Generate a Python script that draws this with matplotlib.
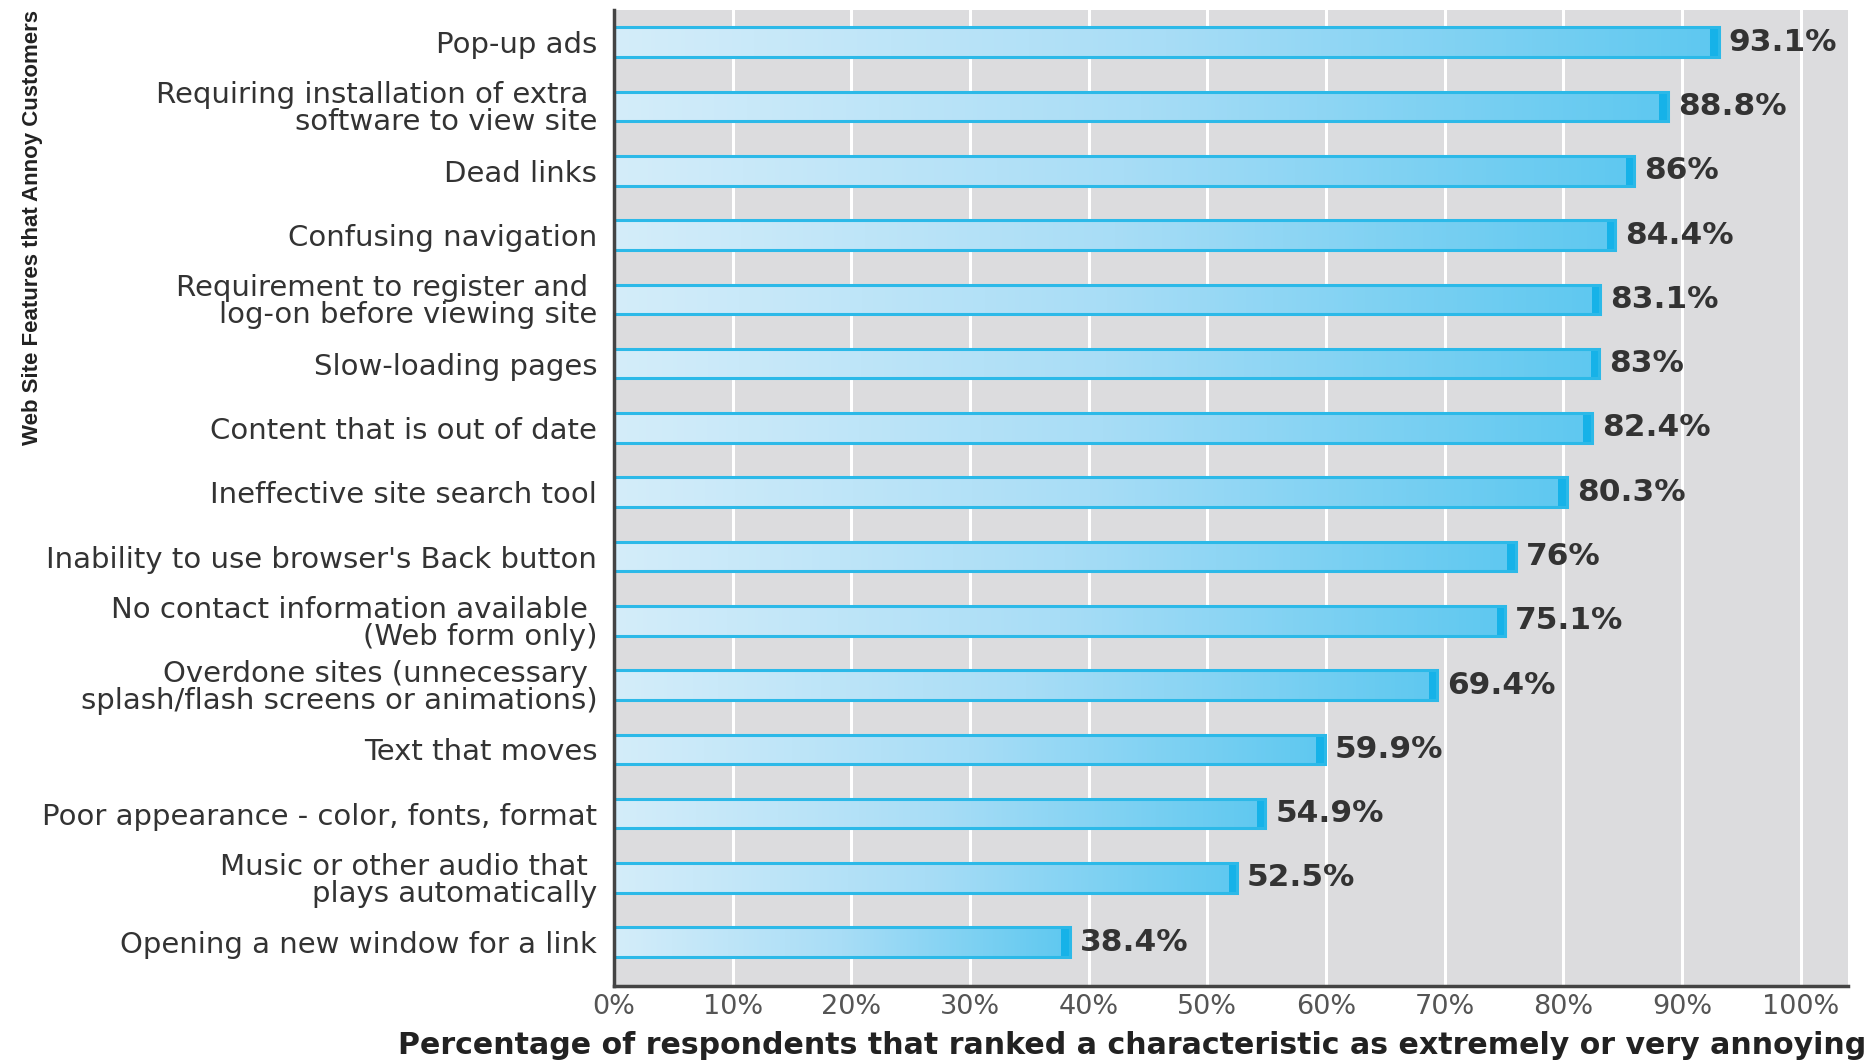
import numpy as np
import matplotlib
matplotlib.use("Agg")
import matplotlib.pyplot as plt
from matplotlib.colors import LinearSegmentedColormap

categories = [
    "Pop-up ads",
    "Requiring installation of extra \nsoftware to view site",
    "Dead links",
    "Confusing navigation",
    "Requirement to register and \nlog-on before viewing site",
    "Slow-loading pages",
    "Content that is out of date",
    "Ineffective site search tool",
    "Inability to use browser's Back button",
    "No contact information available \n(Web form only)",
    "Overdone sites (unnecessary \nsplash/flash screens or animations)",
    "Text that moves",
    "Poor appearance - color, fonts, format",
    "Music or other audio that \nplays automatically",
    "Opening a new window for a link",
]
values = [93.1, 88.8, 86, 84.4, 83.1, 83, 82.4, 80.3, 76, 75.1, 69.4, 59.9, 54.9, 52.5, 38.4]
value_labels = ["93.1%", "88.8%", "86%", "84.4%", "83.1%", "83%", "82.4%", "80.3%",
                "76%", "75.1%", "69.4%", "59.9%", "54.9%", "52.5%", "38.4%"]
x_ticks = [0, 10, 20, 30, 40, 50, 60, 70, 80, 90, 100]
x_ticklabels = ["0%", "10%", "20%", "30%", "40%", "50%", "60%", "70%", "80%", "90%", "100%"]
y_title = "Web Site Features that Annoy Customers"
x_title = "Percentage of respondents that ranked a characteristic as extremely or very annoying"

plt.rcParams['font.family'] = ['DejaVu Sans']

fig = plt.figure(figsize=(18.72, 10.6), dpi=100)
ax = fig.add_axes([614/1872, 1 - 986/1060, (1848-614)/1872, (986-10)/1060])
ax.set_facecolor('#dcdcde')

cmap = LinearSegmentedColormap.from_list('g', ['#d4edfa', '#a8ddf6', '#5ec8f0'])
grad = np.linspace(0, 1, 256).reshape(1, -1)

pos = np.arange(len(values))
h = 0.46
for y, v in zip(pos, values):
    bar = ax.barh(y, v, height=h, left=0, color='none', edgecolor='#2cb9e8',
                  linewidth=2.2, zorder=4)[0]
    im = ax.imshow(grad, cmap=cmap, aspect='auto', extent=[0, v, y + h/2, y - h/2],
                   zorder=3, interpolation='bilinear')
    im.set_clip_path(bar)
    ax.barh(y, 0.7, height=h, left=v - 0.7, color='#16b2e8', edgecolor='none', zorder=3.5)

for y, v, lab in zip(pos, values, value_labels):
    ax.text(v + 0.85, y, lab, ha='left', va='center', fontsize=22.5, fontweight='bold',
            color='#333333', zorder=5)

ax.set_xlim(0, 104)
ax.set_ylim(len(values) - 1 + 0.68, -0.5)
ax.set_xticks(x_ticks)
ax.set_xticklabels(x_ticklabels, fontsize=19.5, color='#555555')
ax.set_yticks(pos)
ax.set_yticklabels(categories, fontsize=21, color='#333333', linespacing=0.95)
ax.tick_params(axis='both', length=0)
ax.tick_params(axis='y', pad=12)
ax.tick_params(axis='x', pad=6)
ax.grid(axis='x', color='white', linewidth=2.2, zorder=1)
ax.set_axisbelow(True)
for s in ['top', 'right']:
    ax.spines[s].set_visible(False)
for s in ['left', 'bottom']:
    ax.spines[s].set_color('#444444')
    ax.spines[s].set_linewidth(2.5)
    ax.spines[s].set_zorder(6)

fig.text(33/1872, 1 - 10/1060, y_title, rotation=90, ha='center', va='top',
         fontsize=16, fontweight='bold', family=['Liberation Sans Narrow', 'Liberation Sans'],
         color='#222222')
fig.text(1866/1872, 1 - 1046/1060, x_title, ha='right', va='center',
         fontsize=21.6, fontweight='bold', color='#222222')

fig.savefig('out.png', dpi=100)
